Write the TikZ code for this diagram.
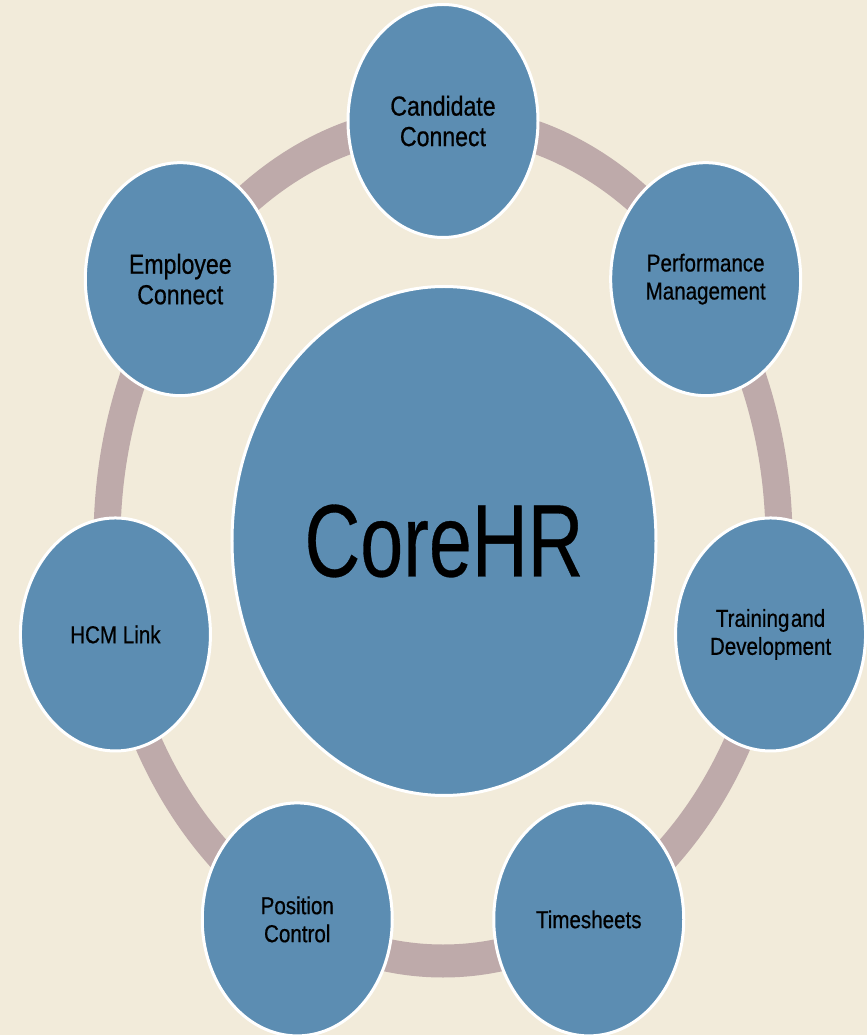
\documentclass[tikz,border=0pt]{standalone}
\usepackage{fontspec}
\setmainfont{Liberation Sans}
\newfontfamily\narrowfont{Liberation Sans}[FakeStretch=0.84, FakeBold=0.6]
\newfontfamily\corefont{Liberation Sans}[FakeStretch=0.75, FakeBold=0.3]
\usetikzlibrary{shapes.geometric}

\definecolor{paper}{HTML}{F2EBDA}
\definecolor{bubble}{HTML}{5C8DB2}
\definecolor{ringcol}{HTML}{BEAAAA}

\begin{document}
\begin{tikzpicture}
      [x=1pt, y=1pt,
       every node/.style={ellipse, fill=bubble, draw=white, line width=3pt, inner sep=0pt, align=center, text=black},
       sat/.style={minimum width=190, minimum height=233, font=\narrowfont\fontsize{24.5}{28}\selectfont},
       bigsat/.style={sat, font=\narrowfont\fontsize{27.5}{30.5}\selectfont}]
      \useasboundingbox (-443,-494) rectangle (424,541);
      \fill [paper] (-443,-494) rectangle (424,541);

      % the ring behind the bubbles
      \fill [ringcol, even odd rule] (0,0) ellipse [x radius=349.5, y radius=436.5]
                                     (0,0) ellipse [x radius=322.5, y radius=403.5];

      \node [minimum width=424, minimum height=509, font=\corefont\fontsize{103}{110}\selectfont] (core) at (1,0) {CoreHR};

      \node [bigsat] (candidate) at (90:336 and 420) {Candidate\\Connect};
      \node [sat] (performance) at (38.57:336 and 420) {Performance\\Management};
      \node [sat] (training) at (-12.86:336 and 420) {Training\hspace{1.5pt}and\\Development};
      \node [sat] (timesheets) at (-64.29:336 and 420) {Timesheets};
      \node [sat] (position) at (-115.71:336 and 420) {Position\\Control};
      \node [sat] (hcm) at (-167.14:336 and 420) {HCM Link};
      \node [bigsat] (employee) at (141.43:336 and 420) {Employee\\Connect};
    \end{tikzpicture}
\end{document}
